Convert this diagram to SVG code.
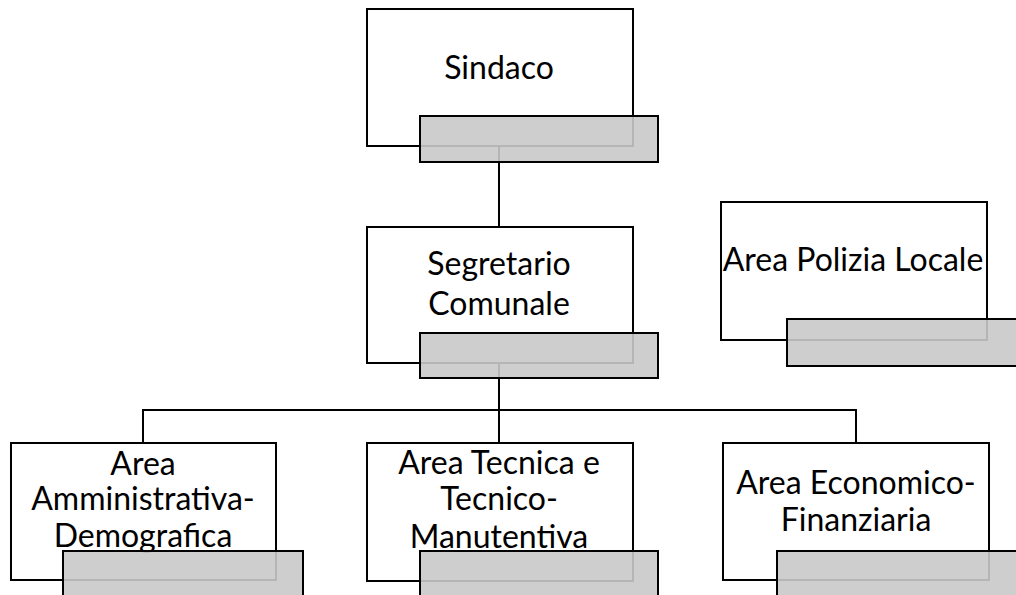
<svg xmlns="http://www.w3.org/2000/svg" width="1016" height="595" viewBox="0 0 1016 595">
<style>
.box{fill:#fff;stroke:#000;stroke-width:2}
.sh{fill:#c9c9c9;fill-opacity:0.9;stroke:#000;stroke-width:2}
.t{font-family:Lato,"Open Sans","Liberation Sans",sans-serif;font-size:32px;fill:#000;text-anchor:middle}
.c{fill:none;stroke:#000;stroke-width:2}
</style>
<rect width="1016" height="595" fill="#fff"/>
<g id="connectors">
<path class="c" d="M499 146V227"/>
<path class="c" d="M499 363V443"/>
<path class="c" d="M143 443V410H856V443"/>
</g>
<g id="sindaco">
<rect class="box" x="367" y="9" width="266" height="137"/>
<text class="t" x="499" y="79">Sindaco</text>
<rect class="sh" x="420" y="116" width="238" height="46"/>
</g>
<g id="segretario">
<rect class="box" x="367" y="227" width="266" height="136"/>
<text class="t" x="499" y="275">Segretario</text>
<text class="t" x="499" y="315">Comunale</text>
<rect class="sh" x="420" y="333" width="238" height="45"/>
</g>
<g id="polizia">
<rect class="box" x="721" y="202" width="266" height="138"/>
<text class="t" x="853" y="271">Area Polizia Locale</text>
<rect class="sh" x="787" y="319" width="238" height="47"/>
</g>
<g id="amministrativa">
<rect class="box" x="11" y="443" width="265" height="137"/>
<text class="t" x="143" y="475">Area</text>
<text class="t" x="143" y="510">Amministrativa-</text>
<text class="t" x="143" y="547">Demografica</text>
<rect class="sh" x="63" y="551" width="240" height="50"/>
</g>
<g id="tecnica">
<rect class="box" x="367" y="443" width="266" height="138"/>
<text class="t" x="499" y="474">Area Tecnica e</text>
<text class="t" x="499" y="510">Tecnico-</text>
<text class="t" x="499" y="548">Manutentiva</text>
<rect class="sh" x="420" y="551" width="238" height="50"/>
</g>
<g id="economico">
<rect class="box" x="723" y="443" width="266" height="137"/>
<text class="t" x="856" y="494">Area Economico-</text>
<text class="t" x="856" y="531">Finanziaria</text>
<rect class="sh" x="777" y="551" width="240" height="50"/>
</g>
</svg>
